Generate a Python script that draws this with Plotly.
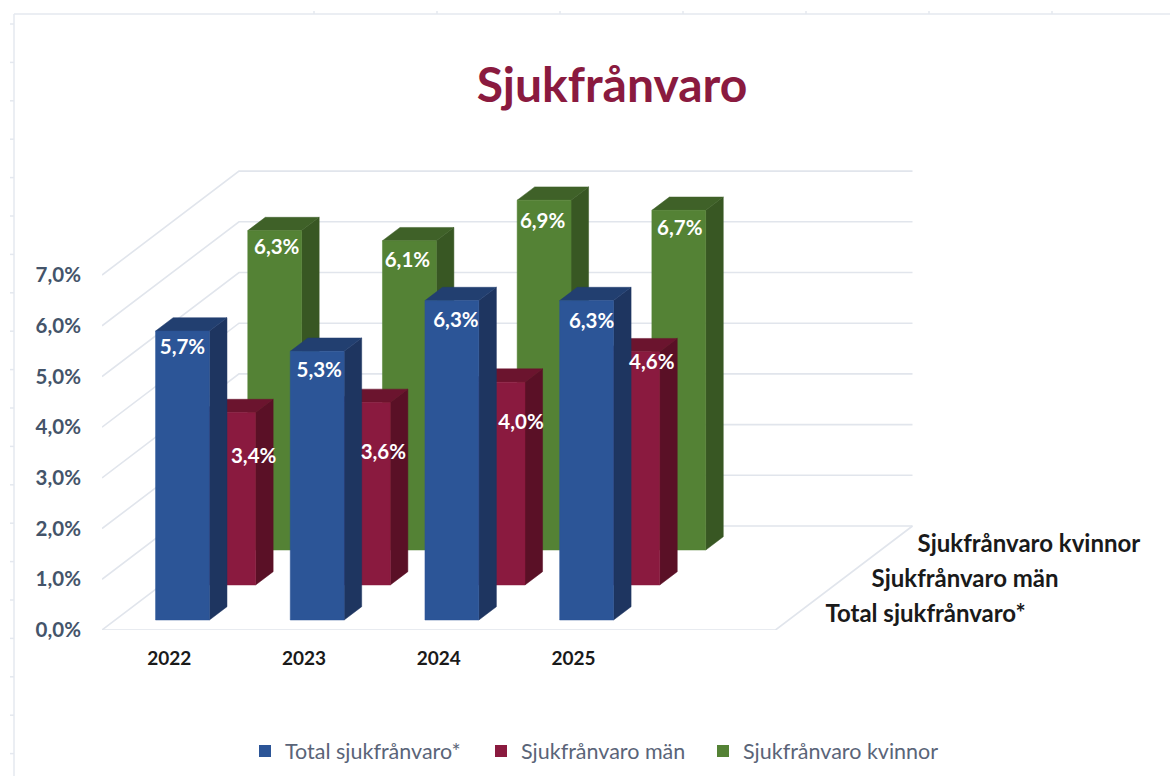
import plotly.graph_objects as go

# ---- data ----
years = ["2022", "2023", "2024", "2025"]
series_names = ["Total sjukfrånvaro*", "Sjukfrånvaro män", "Sjukfrånvaro kvinnor"]
total = [5.7, 5.3, 6.3, 6.3]
men = [3.4, 3.6, 4.0, 4.6]
women = [6.3, 6.1, 6.9, 6.7]
y_ticks = [0, 1, 2, 3, 4, 5, 6, 7]

# ---- styling / projection settings ----
W, H = 1170, 776
LEFT, BOTTOM_PX = 102, 630
CAT_PX, VAL_PX = 134.7, 50.7
DEPTH_X, DEPTH_Y = 137 / CAT_PX, 104 / VAL_PX   # shift of the full floor depth, in axis units
N_SLOTS = 5
BAR_L, BAR_R = 0.30, 0.70
BAR_DEPTH = 0.128
FONT = "Lato"
GRID = "#E1E5EC"
styles = [
    dict(vals=total, d=0.096, front="#2C5597", side="#1E3560", top="#223F70",
         lab_dx=[0, 2, 4, 5], lab_dy=[17.5, 20.5, 21.5, 22.5]),
    dict(vals=men, d=0.433, front="#8A1A3F", side="#5A1026", top="#6B142E",
         lab_dx=[25, 20, 23, 19], lab_dy=[45, 51, 42, 12]),
    dict(vals=women, d=0.769, front="#548235", side="#385723", top="#3F6128",
         lab_dx=[2, -2, -1.5, 1], lab_dy=[18.5, 21.5, 22.5, 19.5]),
]
depth_label_gap = 28
depth_label_drop = 3
legend_left_px = [245, 481, 703]


def proj(x, d, v):
    return x + d * DEPTH_X, v + d * DEPTH_Y


def poly(points):
    xs, ys = [], []
    for x, d, v in points:
        px, py = proj(x, d, v)
        xs.append(px)
        ys.append(py)
    xs.append(xs[0])
    ys.append(ys[0])
    return xs + [None], ys + [None]


fig = go.Figure()

# walls and floor
for t in y_ticks:
    xs, ys = zip(proj(0, 0, t), proj(0, 1, t), proj(N_SLOTS, 1, t))
    fig.add_trace(go.Scatter(x=xs, y=ys, mode="lines", line=dict(color=GRID, width=1.6),
                             showlegend=False, hoverinfo="skip"))
xs, ys = zip(proj(0, 0, 0), proj(N_SLOTS, 0, 0), proj(N_SLOTS, 1, 0))
fig.add_trace(go.Scatter(x=xs, y=ys, mode="lines", line=dict(color=GRID, width=1.6),
                         showlegend=False, hoverinfo="skip"))

# bars, back row first
for s in reversed(styles):
    d0, d1 = s["d"], s["d"] + BAR_DEPTH
    faces = {"side": ([], []), "top": ([], []), "front": ([], [])}
    for i, v in enumerate(s["vals"]):
        l, r = i + BAR_L, i + BAR_R
        shapes = {
            "side": [(r, d0, 0), (r, d1, 0), (r, d1, v), (r, d0, v)],
            "top": [(l, d0, v), (r, d0, v), (r, d1, v), (l, d1, v)],
            "front": [(l, d0, 0), (r, d0, 0), (r, d0, v), (l, d0, v)],
        }
        for k, pts in shapes.items():
            a, b = poly(pts)
            faces[k][0].extend(a)
            faces[k][1].extend(b)
    for k, (a, b) in faces.items():
        fig.add_trace(go.Scatter(x=a, y=b, mode="lines", fill="toself", fillcolor=s[k],
                                 line=dict(color=s[k], width=0.5),
                                 showlegend=False, hoverinfo="skip"))

# data labels
for s in styles:
    lx, ly, txt = [], [], []
    for i, v in enumerate(s["vals"]):
        px, py = proj(i + (BAR_L + BAR_R) / 2, s["d"], v)
        lx.append(px + s["lab_dx"][i] / CAT_PX)
        ly.append(py - s["lab_dy"][i] / VAL_PX)
        txt.append(f"{v:.1f}%".replace(".", ","))
    fig.add_trace(go.Scatter(x=lx, y=ly, mode="text", text=txt, textposition="middle center",
                             textfont=dict(family=FONT, size=20.5, color="white", weight="bold"),
                             showlegend=False, hoverinfo="skip"))

# depth-axis labels
for name, s in zip(series_names, styles):
    px, py = proj(N_SLOTS + depth_label_gap / CAT_PX, s["d"] + BAR_DEPTH / 2, 0)
    fig.add_trace(go.Scatter(x=[px], y=[py - depth_label_drop / VAL_PX], mode="text", text=[name],
                             textposition="middle right",
                             textfont=dict(family=FONT, size=24, color="#1a1a1a", weight="bold"),
                             showlegend=False, hoverinfo="skip"))


def px_x(p):
    return (p - LEFT) / (W - LEFT)


def px_y(p):
    return 1 - p / BOTTOM_PX


# legend keys, each in its own legend box
legends = {}
for n, (name, s, lp) in enumerate(zip(series_names, styles, legend_left_px)):
    key = "legend" if n == 0 else f"legend{n + 1}"
    fig.add_trace(go.Scatter(x=[None], y=[None], mode="markers", name=name, legend=key,
                             marker=dict(symbol="square", size=12, color=s["front"])))
    legends[key] = dict(orientation="h", x=px_x(lp), xanchor="left", y=px_y(751), yanchor="middle",
                        font=dict(family=FONT, size=21.5, color="#5A6478"), bgcolor="rgba(0,0,0,0)")

# sheet outline with small tick marks
frame = dict(type="line", xref="paper", yref="paper", line=dict(color="#E4E8EF", width=1.5))
sheet_shapes = [
    dict(frame, x0=px_x(14), x1=px_x(14), y0=px_y(14), y1=px_y(776)),
    dict(frame, x0=px_x(14), x1=px_x(1170), y0=px_y(14), y1=px_y(14)),
]
for k in range(20):
    p = 24 + 38.4 * k
    sheet_shapes.append(dict(frame, x0=px_x(10), x1=px_x(14), y0=px_y(p), y1=px_y(p)))
for k in range(7):
    p = 314 + 123 * k
    sheet_shapes.append(dict(frame, x0=px_x(p), x1=px_x(p), y0=px_y(11), y1=px_y(14)))

fig.update_layout(
    width=W, height=H, autosize=False,
    margin=dict(l=LEFT, r=0, t=0, b=H - BOTTOM_PX),
    paper_bgcolor="white", plot_bgcolor="white",
    title=dict(text="<b>Sjukfrånvaro</b>", x=612 / W, xanchor="center", y=1 - 85 / H, yanchor="middle",
               font=dict(family=FONT, size=48, color="#8A1A3F")),
    xaxis=dict(range=[0, (W - LEFT) / CAT_PX], showgrid=False, zeroline=False, showline=False,
               tickmode="array", tickvals=[i + 0.5 for i in range(len(years))], ticktext=years,
               ticks="", ticklabelstandoff=15,
               tickfont=dict(family=FONT, size=19, color="#1a1a1a", weight="bold")),
    yaxis=dict(range=[0, BOTTOM_PX / VAL_PX], showgrid=False, zeroline=False, showline=False,
               tickmode="array", tickvals=y_ticks,
               ticktext=[f"{t:.1f}%".replace(".", ",") for t in y_ticks],
               ticks="", ticklabelstandoff=20,
               tickfont=dict(family=FONT, size=20.5, color="#44546A", weight="bold")),
    shapes=sheet_shapes,
    hovermode=False,
    **legends,
)

fig.write_html("out.html", post_script="document.body.style.margin='0';",
               config=dict(displayModeBar=False))
